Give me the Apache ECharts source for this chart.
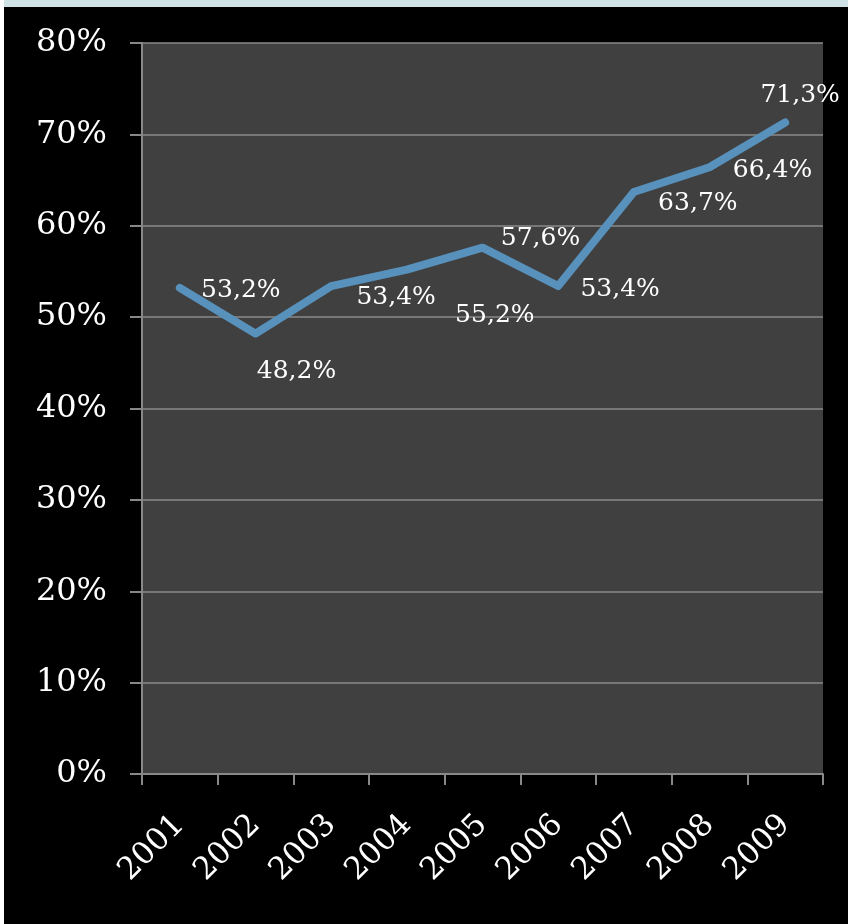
<!DOCTYPE html>
<html>
<head>
<meta charset="utf-8">
<script src="https://cdn.jsdelivr.net/npm/echarts@6/dist/echarts.min.js"></script>
<style>
html,body{margin:0;padding:0;background:#000;}
#chart{width:848px;height:924px;}
</style>
</head>
<body>
<div id="chart"></div>
<script>
const years = ['2001','2002','2003','2004','2005','2006','2007','2008','2009'];
const shares = [53.2, 48.2, 53.4, 55.2, 57.6, 53.4, 63.7, 66.4, 71.3];
const yTicks = [0, 10, 20, 30, 40, 50, 60, 70, 80];

const labelOffsets = [[61,3],[41,38],[65,11],[88,46],[58,-9],[62,3],[64,12],[63,3],[15,-27]];
const seriesData = shares.map((v, i) => ({
  value: v,
  label: { offset: labelOffsets[i] }
}));

const chart = echarts.init(document.getElementById('chart'), null, {renderer: 'canvas'});
chart.setOption({
  backgroundColor: '#000',
  animation: false,
  graphic: [
    { type: 'rect', left: 0, top: 0, shape: { width: 848, height: 7 }, style: { fill: '#d0e2e6' }, z: 100 },
    { type: 'rect', left: 0, top: 0, shape: { width: 4, height: 924 }, style: { fill: '#ffffff' }, z: 100 }
  ],
  grid: { left: 142, top: 43, right: 25, bottom: 150, show: true, backgroundColor: '#404040', borderWidth: 0 },
  xAxis: {
    type: 'category',
    data: years,
    boundaryGap: true,
    axisLine: { lineStyle: { color: '#888', width: 2 } },
    axisTick: { show: true, length: 11, lineStyle: { color: '#888', width: 2 } },
    axisLabel: { rotate: 45, margin: 46, color: '#fff', fontFamily: 'DejaVu Serif', fontSize: 31 }
  },
  yAxis: {
    type: 'value',
    min: yTicks[0],
    max: yTicks[yTicks.length - 1],
    interval: 10,
    axisLine: { show: true, lineStyle: { color: '#888', width: 2 } },
    axisTick: { show: true, length: 12, lineStyle: { color: '#888', width: 2 } },
    splitLine: { show: true, lineStyle: { color: '#8a8a8a', width: 1.5 } },
    axisLabel: { formatter: '{value}%', margin: 35, color: '#fff', fontFamily: 'DejaVu Serif', fontSize: 32 }
  },
  series: [{
    type: 'line',
    data: seriesData,
    showSymbol: true,
    symbol: 'circle',
    symbolSize: 0.1,
    lineStyle: { color: '#5891bb', width: 8, cap: 'round', join: 'round' },
    itemStyle: { color: '#5891bb' },
    label: {
      show: true,
      position: 'inside',
      align: 'center',
      verticalAlign: 'middle',
      color: '#fff',
      fontFamily: 'DejaVu Serif',
      fontSize: 25,
      formatter: p => p.value.toFixed(1).replace('.', ',') + '%'
    }
  }]
});
</script>
</body>
</html>
